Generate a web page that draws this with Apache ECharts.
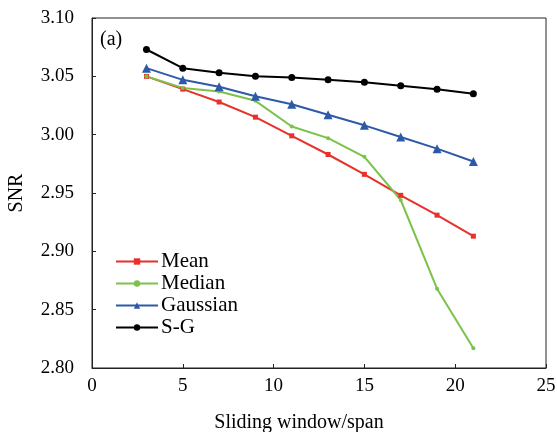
<!DOCTYPE html>
<html>
<head>
<meta charset="utf-8">
<script src="https://cdn.jsdelivr.net/npm/echarts@6/dist/echarts.min.js"></script>
<style>
  html, body { margin: 0; padding: 0; background: #fff; }
  #chart { width: 557px; height: 432px; }
</style>
</head>
<body>
<div id="chart"></div>
<script>
// Sliding window sizes (x values shared by every series)
const windowSizes = [3, 5, 7, 9, 11, 13, 15, 17, 19, 21];

// SNR per filter
const meanSNR     = [3.050, 3.039, 3.028, 3.015, 2.999, 2.983, 2.966, 2.948, 2.931, 2.913];
const medianSNR   = [3.050, 3.040, 3.037, 3.029, 3.007, 2.997, 2.981, 2.944, 2.868, 2.817];
const gaussianSNR = [3.057, 3.047, 3.041, 3.033, 3.026, 3.017, 3.008, 2.998, 2.988, 2.977];
const sgSNR       = [3.073, 3.057, 3.053, 3.050, 3.049, 3.047, 3.045, 3.042, 3.039, 3.035];

const seriesNames = ['Mean', 'Median', 'Gaussian', 'S-G'];
const seriesColors = ['#e8312b', '#7cc24a', '#2d5aa8', '#000000'];
const seriesSymbols = ['rect', 'circle', 'triangle', 'circle'];
const symbolSizes = [5, 4, 9, 7];
const seriesValues = [meanSNR, medianSNR, gaussianSNR, sgSNR];

const FONT = "'Liberation Serif', 'Times New Roman', serif";

const chart = echarts.init(document.getElementById('chart'), null, { renderer: 'canvas' });

const pairs = vals => windowSizes.map((x, i) => [x, vals[i]]);

chart.setOption({
  animation: false,
  backgroundColor: '#ffffff',
  title: {
    text: '(a)',
    left: 95,
    top: 25,
    textStyle: { fontFamily: FONT, fontSize: 20, fontWeight: 'normal', color: '#000' }
  },
  grid: {
    left: 92, right: 11, top: 18, bottom: 64,
    show: true, borderColor: '#222', borderWidth: 1,
    containLabel: false,
    outerBoundsMode: 'none'
  },
  legend: {
    orient: 'vertical',
    left: 110,
    top: 246,
    itemWidth: 42,
    itemHeight: 8,
    itemGap: 1,
    textStyle: { fontFamily: FONT, fontSize: 21, color: '#000', lineHeight: 21, padding: [0, 0, 0, -2] },
    data: seriesNames
  },
  xAxis: {
    type: 'value',
    min: 0, max: 25, interval: 5,
    name: 'Sliding window/span',
    nameLocation: 'middle',
    nameGap: 45,
    nameTextStyle: { fontFamily: FONT, fontSize: 20, color: '#000', padding: [0, 40, 0, 0] },
    axisLine: { lineStyle: { color: '#222', width: 1 } },
    axisTick: { inside: true, length: 4, lineStyle: { color: '#222' } },
    axisLabel: { fontFamily: FONT, fontSize: 19, color: '#000', margin: 9 },
    splitLine: { show: false }
  },
  yAxis: {
    type: 'value',
    min: 2.8, max: 3.1, interval: 0.05,
    name: 'SNR',
    nameLocation: 'middle',
    nameGap: 65,
    nameTextStyle: { fontFamily: FONT, fontSize: 20, color: '#000' },
    axisLine: { show: true, lineStyle: { color: '#222', width: 1 } },
    axisTick: { show: true, inside: true, length: 4, lineStyle: { color: '#222' } },
    axisLabel: {
      fontFamily: FONT, fontSize: 19, color: '#000', margin: 18,
      formatter: v => v.toFixed(2)
    },
    splitLine: { show: false }
  },
  series: seriesNames.map((name, k) => ({
    name: name,
    type: 'line',
    data: pairs(seriesValues[k]),
    symbol: seriesSymbols[k],
    symbolSize: symbolSizes[k],
    showSymbol: true,
    color: seriesColors[k],
    lineStyle: { color: seriesColors[k], width: 2 },
    itemStyle: { color: seriesColors[k] }
  }))
});
</script>
</body>
</html>
